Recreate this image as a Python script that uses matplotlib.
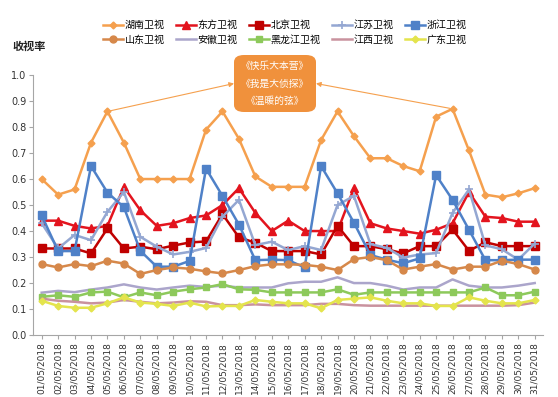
import matplotlib
matplotlib.use("Agg")
import matplotlib.pyplot as plt
from matplotlib.patches import FancyBboxPatch

plt.rcParams['font.family'] = ['Noto Sans CJK SC', 'DejaVu Sans']

days = [f"{d:02d}/05/2018" for d in range(1, 32)]

hunan = [0.60, 0.54, 0.56, 0.74, 0.86, 0.74, 0.60, 0.60, 0.60, 0.60, 0.79, 0.86, 0.755, 0.61, 0.57, 0.57,
         0.57, 0.75, 0.86, 0.765, 0.68, 0.68, 0.65, 0.63, 0.84, 0.87, 0.71, 0.54, 0.53, 0.545, 0.565]
dongfang = [0.44, 0.44, 0.42, 0.41, 0.42, 0.57, 0.48, 0.42, 0.43, 0.45, 0.46, 0.50, 0.565, 0.47, 0.40, 0.44,
            0.40, 0.40, 0.40, 0.565, 0.43, 0.41, 0.40, 0.39, 0.405, 0.43, 0.55, 0.455, 0.45, 0.436, 0.436]
beijing = [0.333, 0.333, 0.333, 0.314, 0.41, 0.333, 0.34, 0.33, 0.344, 0.356, 0.36, 0.465, 0.376, 0.355, 0.323, 0.323,
           0.323, 0.31, 0.42, 0.342, 0.342, 0.33, 0.314, 0.342, 0.342, 0.406, 0.324, 0.357, 0.342, 0.342, 0.342]
jiangsu = [0.43, 0.333, 0.385, 0.365, 0.474, 0.55, 0.378, 0.34, 0.31, 0.32, 0.335, 0.455, 0.52, 0.346, 0.359, 0.327,
           0.342, 0.327, 0.50, 0.535, 0.35, 0.335, 0.298, 0.31, 0.315, 0.47, 0.56, 0.345, 0.33, 0.29, 0.352]
zhejiang = [0.46, 0.323, 0.323, 0.65, 0.548, 0.492, 0.324, 0.263, 0.263, 0.285, 0.64, 0.535, 0.425, 0.288, 0.29, 0.288,
            0.26, 0.65, 0.545, 0.432, 0.308, 0.29, 0.276, 0.295, 0.615, 0.52, 0.405, 0.288, 0.288, 0.29, 0.29]
shandong = [0.273, 0.26, 0.273, 0.265, 0.286, 0.275, 0.235, 0.25, 0.26, 0.255, 0.245, 0.237, 0.25, 0.265, 0.272, 0.272,
            0.27, 0.263, 0.25, 0.292, 0.30, 0.288, 0.252, 0.263, 0.273, 0.252, 0.263, 0.263, 0.286, 0.273, 0.252]
anhui = [0.163, 0.17, 0.165, 0.175, 0.183, 0.195, 0.183, 0.175, 0.183, 0.19, 0.185, 0.19, 0.183, 0.183, 0.183, 0.199,
         0.205, 0.205, 0.222, 0.20, 0.20, 0.19, 0.175, 0.183, 0.183, 0.214, 0.19, 0.183, 0.183, 0.19, 0.20]
heilongjiang = [0.147, 0.153, 0.147, 0.164, 0.167, 0.145, 0.164, 0.153, 0.167, 0.176, 0.183, 0.196, 0.176, 0.174, 0.164, 0.164,
                0.164, 0.164, 0.176, 0.155, 0.164, 0.164, 0.164, 0.164, 0.164, 0.164, 0.164, 0.183, 0.153, 0.153, 0.167]
jiangxi = [0.14, 0.132, 0.128, 0.122, 0.125, 0.135, 0.128, 0.122, 0.125, 0.13, 0.128, 0.115, 0.115, 0.118, 0.115, 0.115,
           0.115, 0.12, 0.12, 0.115, 0.113, 0.113, 0.113, 0.113, 0.113, 0.113, 0.113, 0.113, 0.113, 0.115, 0.125]
guangdong = [0.132, 0.112, 0.105, 0.105, 0.122, 0.145, 0.125, 0.12, 0.112, 0.125, 0.11, 0.112, 0.112, 0.135, 0.128, 0.122,
             0.122, 0.103, 0.135, 0.14, 0.145, 0.132, 0.122, 0.122, 0.112, 0.112, 0.145, 0.132, 0.122, 0.122, 0.135]

names = ["湖南卫视", "东方卫视", "北京卫视", "江苏卫视", "浙江卫视",
         "山东卫视", "安徽卫视", "黑龙江卫视", "江西卫视", "广东卫视"]
series = [hunan, dongfang, beijing, jiangsu, zhejiang, shandong, anhui, heilongjiang, jiangxi, guangdong]
colors = ["#F5A04E", "#E3141E", "#C00000", "#94A7D2", "#4F81C8",
          "#D6884A", "#ABA5CB", "#8DC95B", "#C9929E", "#E4E44C"]
markers = ["D", "^", "s", "+", "s", "o", None, "s", None, "D"]
msizes = [3.5, 5.5, 6, 6, 6, 5, 0, 5, 0, 3.5]

annotation_lines = ["《快乐大本营》", "《我是大侦探》", "《温暖的弦》"]
ylabel = "收视率"

fig = plt.figure(figsize=(5.58, 3.97), dpi=100)
ax = fig.add_axes([0.060, 0.156, 0.913, 0.655])

x = list(range(1, 32))
handles = []
for name, vals, c, m, ms in zip(names, series, colors, markers, msizes):
    kw = dict(color=c, lw=1.8, label=name, solid_joinstyle='round')
    if m:
        kw.update(marker=m, markersize=ms, markerfacecolor=c, markeredgecolor=c)
        if m == "+":
            kw.update(markeredgewidth=1.2)
    h, = ax.plot(x, vals, **kw)
    handles.append(h)

ax.set_xlim(0.5, 31.5)
ax.set_ylim(0, 1.0)
ax.set_xticks(x)
ax.set_xticklabels(days, rotation=90, fontsize=6.5, family='DejaVu Sans')
ax.set_yticks([i / 10 for i in range(11)])
ax.set_yticklabels([f"{i/10:.1f}" for i in range(11)], fontsize=7, family='DejaVu Sans')
for s in ["top", "right"]:
    ax.spines[s].set_visible(False)
for s in ["left", "bottom"]:
    ax.spines[s].set_color("#A6A6A6")
    ax.spines[s].set_linewidth(0.8)
ax.tick_params(axis='both', colors="#A6A6A6", labelcolor="#333333", length=3, width=0.8, pad=2)

fig.text(0.022, 0.882, ylabel, fontsize=8, fontweight='bold', ha='left', va='center', color="#222222")

# annotation box
box_x0, box_y0, box_w, box_h = 234, 285, 82, 57  # pixels (from bottom)
W, H = 558, 397
box = FancyBboxPatch((box_x0 / W, box_y0 / H), box_w / W, box_h / H,
                     boxstyle="round,pad=0,rounding_size=0.018", transform=fig.transFigure,
                     facecolor="#F0913C", edgecolor="none", zorder=5)
fig.patches.append(box)
for i, t in enumerate(annotation_lines):
    fig.text((box_x0 + box_w / 2) / W, (box_y0 + box_h - 11 - i * 17.5) / H, t,
             fontsize=7, color="white", ha='center', va='center', zorder=6)

left_pt = (box_x0 / W, (box_y0 + box_h / 2) / H)
right_pt = ((box_x0 + box_w) / W, (box_y0 + box_h / 2) / H)
for day, tgt in [(5, left_pt), (26, right_pt)]:
    ax.annotate("", xy=tgt, xycoords='figure fraction', xytext=(day, hunan[day - 1]), textcoords='data',
                arrowprops=dict(arrowstyle="-|>", color="#F5A04E", lw=0.8, mutation_scale=7,
                                shrinkA=2, shrinkB=0), annotation_clip=False)

order = [0, 5, 1, 6, 2, 7, 3, 8, 4, 9]
leg = fig.legend([handles[i] for i in order], [names[i] for i in order],
                 loc='center', bbox_to_anchor=(0.51, 0.918), ncol=5, frameon=False,
                 fontsize=7.2, handlelength=2.0, columnspacing=1.1, handletextpad=0.2,
                 labelspacing=0.45)

fig.savefig("out.png", dpi=100, facecolor="white")
